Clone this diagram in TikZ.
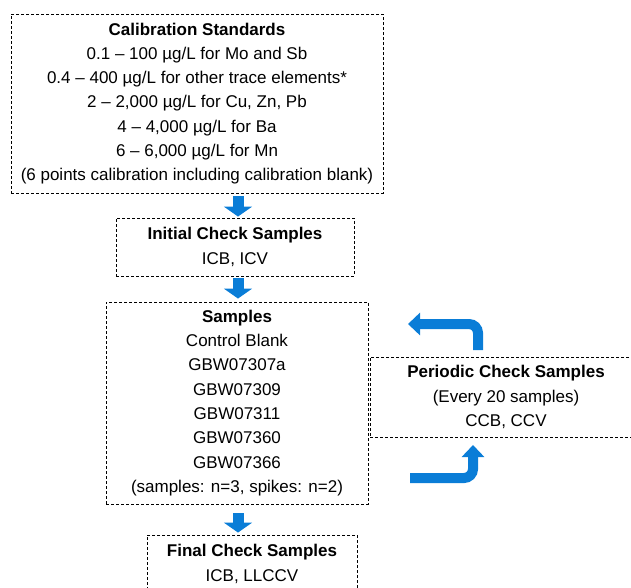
\documentclass[tikz,border=0pt]{standalone}
\usepackage{fontspec}
\setmainfont{Liberation Sans}
\usetikzlibrary{arrows.meta}
\definecolor{flowblue}{RGB}{10,125,215}
\tikzset{
  stage/.style={draw, dash pattern=on 3pt off 2pt, line width=0.9pt, align=center,
    inner sep=0pt, font=\fontsize{17}{24.3}\selectfont},
  downarrow/.style={flowblue, line width=11pt, -{Triangle[width=28pt,length=10pt]}},
  cyclearrow/.style={flowblue, line width=10pt, rounded corners=9pt,
    -{Triangle[width=22pt,length=12pt]}},
}
\begin{document}
\begin{tikzpicture}[x=1pt,y=-1pt]
        \useasboundingbox (0,0) rectangle (631,587);
        \clip (0,0) rectangle (631,587);
        % Etapas del flujo
        \node[stage, minimum width=372pt, minimum height=179pt] (cal) at (197,103.5)
          {\textbf{Calibration Standards}\\0.1 – 100 µg/L for Mo and Sb\\0.4 – 400 µg/L for other trace elements*\\2 – 2,000 µg/L for Cu, Zn, Pb\\4 – 4,000 µg/L for Ba\\6 – 6,000 µg/L for Mn\\(6 points calibration including calibration blank)};
        \node[stage, minimum width=238pt, minimum height=58pt] (init) at (235,247)
          {\textbf{Initial Check Samples}\\ICB, ICV};
        \node[stage, minimum width=262pt, minimum height=202pt] (samp) at (237,403)
          {\textbf{Samples}\\Control Blank\\GBW07307a\\GBW07309\\GBW07311\\GBW07360\\GBW07366\\(samples: n=3, spikes: n=2)};
        \node[stage, minimum width=210pt, minimum height=58pt] (final) at (252,564)
          {\textbf{Final Check Samples}\\ICB, LLCCV};
        \node[stage, minimum width=272pt, minimum height=80pt] (per) at (506,397)
          {\textbf{Periodic Check Samples}\\(Every 20 samples)\\CCB, CCV};
        % Flechas hacia abajo
        \coordinate (axis) at (238,0);
        \draw[downarrow, shorten <=3pt, shorten >=1pt] (cal.south -| axis) -- (init.north -| axis);
        \draw[downarrow, shorten <=2pt, shorten >=3pt] (init.south -| axis) -- (samp.north -| axis);
        \draw[downarrow, shorten <=9pt, shorten >=2pt] (samp.south -| axis) -- (final.north -| axis);
        % Ciclo de control periodico
        \coordinate (upstart) at (478,350);
        \coordinate (upend) at (408,324);
        \coordinate (lowstart) at (410,478);
        \coordinate (lowend) at (473,445);
        \draw[cyclearrow] (upstart) |- (upend);
        \draw[cyclearrow] (lowstart) -| (lowend);
    \end{tikzpicture}
\end{document}
